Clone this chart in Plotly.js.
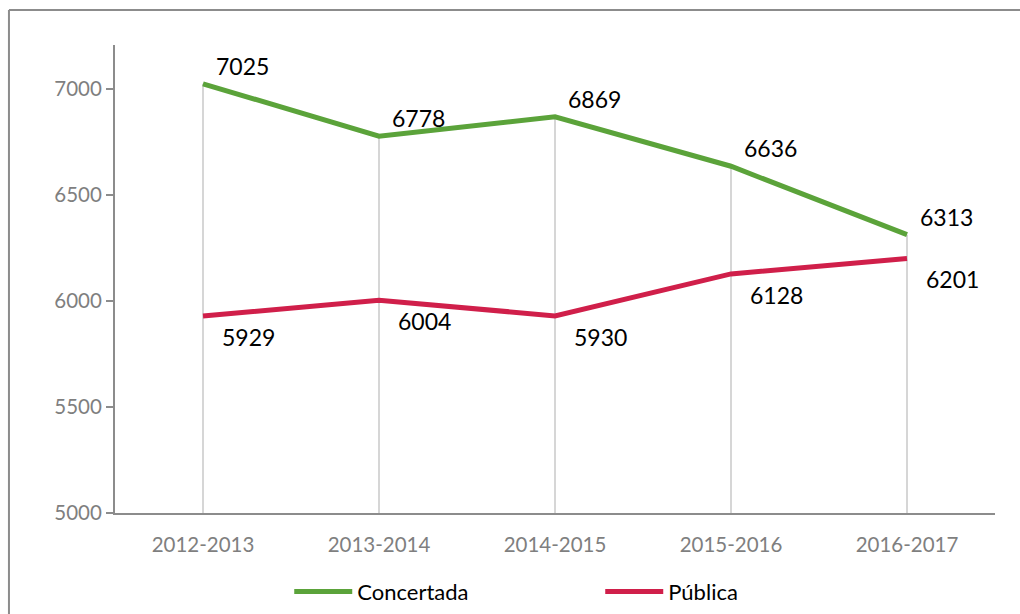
<!DOCTYPE html>
<html>
<head>
<meta charset="utf-8">
<script src="https://cdn.plot.ly/plotly-3.0.1.min.js"></script>
<style>
html,body{margin:0;padding:0;background:#fff;}
#chart{width:1020px;height:614px;}
</style>
</head>
<body>
<div id="chart"></div>
<script>
const categories = ["2012-2013","2013-2014","2014-2015","2015-2016","2016-2017"];
const concertada = [7025, 6778, 6869, 6636, 6313];
const publica = [5929, 6004, 5930, 6128, 6201];
const yTicks = [5000, 5500, 6000, 6500, 7000];

const font = "Lato, 'Open Sans', sans-serif";

// drop lines from the higher series value down to the axis
const dropX = [], dropY = [];
categories.forEach((c, i) => {
  dropX.push(c, c, null);
  dropY.push(yTicks[0], Math.max(concertada[i], publica[i]), null);
});

const traces = [
  {x: dropX, y: dropY, mode: "lines", line: {color: "#c8c8c8", width: 1.5},
   hoverinfo: "skip", showlegend: false},
  {x: categories, y: concertada, name: "Concertada", mode: "lines",
   line: {color: "#5BA33A", width: 5}},
  {x: categories, y: publica, name: "Pública", mode: "lines",
   line: {color: "#D01F4A", width: 5}}
];

const labelFont = {family: font, size: 23, color: "#000"};
const annotations = [];
categories.forEach((c, i) => {
  annotations.push({x: c, y: concertada[i], text: String(concertada[i]), showarrow: false,
    xref: "x", yref: "y", xshift: 39, yshift: 18, font: labelFont});
  annotations.push({x: c, y: publica[i], text: String(publica[i]), showarrow: false,
    xref: "x", yref: "y", xshift: 45, yshift: -21, font: labelFont});
});

const layout = {
  width: 1020, height: 614,
  margin: {l: 115, r: 25, t: 45, b: 101, autoexpand: false},
  paper_bgcolor: "#fff", plot_bgcolor: "#fff",
  font: {family: font},
  showlegend: true,
  annotations: annotations,
  legend: {orientation: "h", x: 0.198, xanchor: "left", y: -0.168, yanchor: "middle",
           font: {family: font, size: 22, color: "#000"}, itemwidth: 58,
           entrywidth: 238, tracegroupgap: 0, itemclick: false},
  xaxis: {type: "category", range: [-0.5, 4.5], showgrid: false, zeroline: false,
          showline: true, linecolor: "#8c8c8c", linewidth: 2, automargin: false,
          ticks: "outside", ticklen: 12, tickcolor: "rgba(0,0,0,0)",
          tickfont: {family: font, size: 20.5, color: "#7f7f7f"}},
  yaxis: {range: [5000, 7208], tickvals: yTicks, ticktext: yTicks.map(String),
          showgrid: false, zeroline: false, showline: true, linecolor: "#8c8c8c", linewidth: 2,
          automargin: false,
          ticks: "outside", ticklen: 7, tickcolor: "#8c8c8c", tickwidth: 1.5,
          ticksuffix: "\u00a0\u00a0",
          tickfont: {family: font, size: 20.5, color: "#7f7f7f"}},
  shapes: [
    {type: "line", xref: "paper", yref: "paper", x0: -0.1205, x1: -0.1205, y0: 1.0748, y1: -0.3,
     line: {color: "#8c8c8c", width: 2}},
    {type: "line", xref: "paper", yref: "paper", x0: -0.1205, x1: 1.04, y0: 1.0748, y1: 1.0748,
     line: {color: "#8c8c8c", width: 2}}
  ]
};

Plotly.newPlot("chart", traces, layout, {displayModeBar: false, staticPlot: true});
</script>
</body>
</html>
